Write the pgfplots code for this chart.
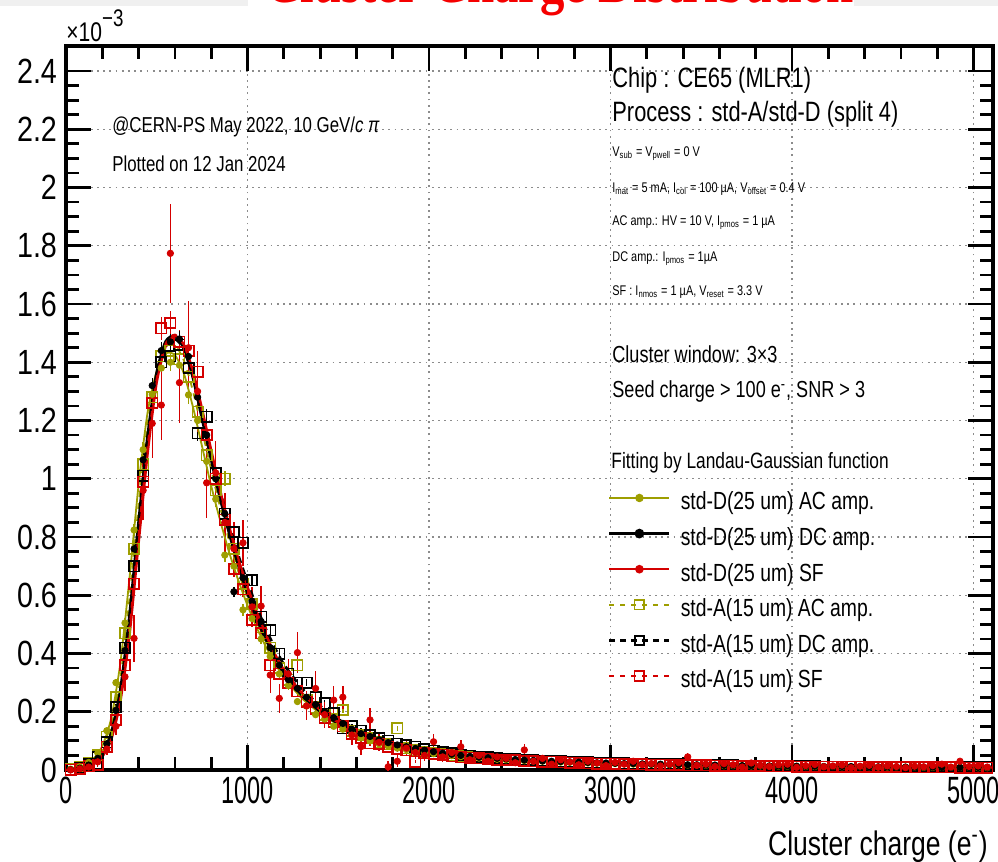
\documentclass[border=0pt]{standalone}
\usepackage{fontspec}
\setmainfont{Liberation Sans}[FakeStretch=0.78]
\newfontfamily\tickfont{Liberation Sans}[FakeStretch=0.62]
\newfontfamily\ytickfont{Liberation Sans}[FakeStretch=0.82]
\newfontfamily\titlefont{Liberation Serif}[FakeStretch=0.8]
\usepackage{pgfplots}
\usepackage{pgfplotstable}
\pgfplotsset{compat=1.18}
\definecolor{olv}{RGB}{158,158,0}
\definecolor{rd}{RGB}{212,0,0}
\definecolor{ttl}{RGB}{245,0,0}

\pgfplotstableread{
x a ae b be c ce d de e ee g ge
25 0.003 0.002 0.001 0.001 0.000 0.004 0.002 0.002 0.001 0.001 0.001 0.003
75 0.011 0.003 0.006 0.002 0.004 0.005 0.010 0.003 0.007 0.002 0.005 0.004
125 0.026 0.004 0.017 0.003 0.010 0.008 0.024 0.004 0.019 0.003 0.013 0.006
175 0.058 0.006 0.040 0.005 0.028 0.012 0.050 0.006 0.044 0.005 0.018 0.008
225 0.135 0.009 0.090 0.007 0.072 0.020 0.115 0.009 0.095 0.008 0.080 0.012
275 0.300 0.013 0.205 0.010 0.150 0.030 0.250 0.013 0.215 0.012 0.172 0.016
325 0.505 0.018 0.410 0.015 0.320 0.050 0.470 0.018 0.420 0.016 0.360 0.022
375 0.824 0.022 0.759 0.020 0.452 0.080 0.760 0.022 0.700 0.020 0.640 0.028
425 1.100 0.026 1.065 0.024 0.960 0.100 1.050 0.026 1.010 0.024 0.990 0.032
475 1.290 0.030 1.320 0.026 1.190 0.120 1.280 0.030 1.260 0.027 1.260 0.036
525 1.380 0.031 1.440 0.028 1.253 0.120 1.420 0.031 1.400 0.028 1.517 0.040
575 1.400 0.031 1.470 0.028 1.774 0.170 1.440 0.032 1.420 0.028 1.535 0.040
625 1.390 0.031 1.480 0.028 1.330 0.140 1.410 0.031 1.460 0.028 1.470 0.040
675 1.288 0.030 1.420 0.028 1.450 0.160 1.350 0.030 1.380 0.028 1.440 0.040
725 1.200 0.029 1.280 0.027 1.300 0.140 1.230 0.029 1.156 0.026 1.367 0.040
775 1.060 0.027 1.150 0.025 0.986 0.120 1.080 0.027 1.213 0.026 1.150 0.036
825 0.930 0.026 1.000 0.024 1.020 0.110 0.960 0.026 1.020 0.024 1.000 0.034
875 0.738 0.023 0.880 0.022 0.850 0.100 1.000 0.026 0.880 0.022 0.860 0.030
925 0.700 0.022 0.612 0.018 0.760 0.090 0.760 0.023 0.817 0.021 0.690 0.027
975 0.550 0.020 0.660 0.019 0.780 0.080 0.640 0.021 0.780 0.021 0.620 0.026
1025 0.520 0.019 0.580 0.018 0.560 0.070 0.570 0.020 0.652 0.019 0.515 0.024
1075 0.450 0.018 0.510 0.017 0.563 0.070 0.490 0.018 0.526 0.017 0.470 0.023
1125 0.390 0.016 0.420 0.015 0.326 0.060 0.420 0.017 0.480 0.016 0.360 0.020
1175 0.330 0.015 0.360 0.014 0.246 0.050 0.350 0.015 0.400 0.015 0.330 0.019
1225 0.290 0.014 0.310 0.013 0.330 0.050 0.310 0.014 0.330 0.014 0.300 0.018
1275 0.235 0.013 0.280 0.012 0.403 0.070 0.360 0.015 0.300 0.013 0.270 0.017
1325 0.220 0.012 0.250 0.012 0.220 0.050 0.240 0.012 0.300 0.013 0.235 0.016
1375 0.190 0.011 0.225 0.011 0.280 0.060 0.215 0.012 0.250 0.012 0.210 0.015
1425 0.175 0.011 0.200 0.010 0.190 0.045 0.190 0.011 0.229 0.011 0.180 0.014
1475 0.150 0.010 0.180 0.010 0.240 0.050 0.175 0.010 0.195 0.010 0.165 0.013
1525 0.140 0.009 0.160 0.009 0.250 0.040 0.206 0.011 0.143 0.009 0.150 0.012
1575 0.125 0.009 0.140 0.009 0.120 0.035 0.135 0.009 0.150 0.009 0.125 0.011
1625 0.110 0.008 0.125 0.008 0.080 0.030 0.120 0.009 0.135 0.008 0.110 0.011
1675 0.100 0.008 0.115 0.008 0.172 0.040 0.110 0.008 0.120 0.008 0.092 0.010
1725 0.090 0.007 0.104 0.007 0.095 0.030 0.095 0.008 0.110 0.008 0.090 0.010
1775 0.082 0.007 0.094 0.007 0.011 0.020 0.088 0.007 0.100 0.007 0.080 0.009
1825 0.075 0.007 0.086 0.006 0.030 0.020 0.143 0.009 0.090 0.007 0.072 0.009
1875 0.070 0.006 0.080 0.006 0.075 0.025 0.075 0.007 0.085 0.006 0.068 0.008
1925 0.065 0.006 0.074 0.006 0.060 0.022 0.068 0.006 0.080 0.006 0.029 0.006
1975 0.060 0.006 0.068 0.006 0.050 0.020 0.062 0.006 0.072 0.006 0.058 0.008
2025 0.056 0.005 0.063 0.005 0.097 0.025 0.058 0.006 0.066 0.005 0.055 0.007
2075 0.052 0.005 0.058 0.005 0.045 0.018 0.054 0.005 0.062 0.005 0.052 0.007
2125 0.049 0.005 0.054 0.005 0.060 0.020 0.051 0.005 0.058 0.005 0.047 0.007
2175 0.046 0.005 0.050 0.005 0.080 0.022 0.048 0.005 0.052 0.005 0.044 0.006
2225 0.044 0.005 0.047 0.005 0.035 0.015 0.045 0.005 0.049 0.005 0.042 0.006
2275 0.041 0.004 0.044 0.004 0.050 0.016 0.043 0.005 0.046 0.004 0.040 0.006
2325 0.039 0.004 0.042 0.004 0.030 0.014 0.041 0.004 0.044 0.004 0.038 0.006
2375 0.037 0.004 0.040 0.004 0.045 0.015 0.039 0.004 0.041 0.004 0.036 0.005
2425 0.035 0.004 0.038 0.004 0.040 0.014 0.036 0.004 0.039 0.004 0.034 0.005
2475 0.034 0.004 0.036 0.004 0.025 0.012 0.035 0.004 0.037 0.004 0.033 0.005
2525 0.032 0.004 0.034 0.004 0.069 0.020 0.033 0.004 0.035 0.004 0.031 0.005
2575 0.031 0.004 0.033 0.004 0.030 0.012 0.032 0.004 0.034 0.004 0.030 0.005
2625 0.030 0.004 0.031 0.004 0.040 0.013 0.031 0.004 0.032 0.004 0.029 0.005
2675 0.028 0.003 0.030 0.003 0.020 0.010 0.029 0.004 0.031 0.003 0.028 0.005
2725 0.027 0.003 0.029 0.003 0.035 0.012 0.028 0.003 0.030 0.003 0.026 0.004
2775 0.026 0.003 0.028 0.003 0.028 0.011 0.027 0.003 0.029 0.003 0.025 0.004
2825 0.025 0.003 0.027 0.003 0.018 0.009 0.026 0.003 0.027 0.003 0.024 0.004
2875 0.024 0.003 0.026 0.003 0.030 0.011 0.025 0.003 0.026 0.003 0.023 0.004
2925 0.023 0.003 0.025 0.003 0.024 0.010 0.024 0.003 0.025 0.003 0.022 0.004
2975 0.022 0.003 0.024 0.003 0.015 0.008 0.023 0.003 0.024 0.003 0.021 0.004
3025 0.022 0.003 0.023 0.003 0.026 0.010 0.022 0.003 0.023 0.003 0.021 0.004
3075 0.021 0.003 0.022 0.003 0.020 0.009 0.021 0.003 0.023 0.003 0.020 0.004
3125 0.020 0.003 0.022 0.003 0.030 0.010 0.021 0.003 0.022 0.003 0.020 0.004
3175 0.020 0.003 0.021 0.003 0.018 0.008 0.020 0.003 0.021 0.003 0.019 0.004
3225 0.019 0.003 0.020 0.003 0.022 0.009 0.020 0.003 0.021 0.003 0.018 0.004
3275 0.019 0.003 0.020 0.003 0.014 0.007 0.019 0.003 0.020 0.003 0.018 0.004
3325 0.018 0.003 0.019 0.003 0.020 0.008 0.019 0.003 0.019 0.003 0.017 0.004
3375 0.018 0.003 0.019 0.003 0.025 0.009 0.018 0.003 0.019 0.003 0.017 0.004
3425 0.017 0.003 0.018 0.003 0.045 0.012 0.018 0.003 0.018 0.003 0.016 0.003
3475 0.017 0.003 0.018 0.003 0.016 0.007 0.017 0.003 0.018 0.003 0.016 0.003
3525 0.016 0.003 0.017 0.003 0.020 0.008 0.017 0.003 0.017 0.003 0.016 0.003
3575 0.016 0.003 0.017 0.003 0.012 0.006 0.016 0.003 0.017 0.003 0.015 0.003
3625 0.015 0.002 0.016 0.002 0.022 0.008 0.016 0.002 0.016 0.002 0.015 0.003
3675 0.015 0.002 0.016 0.002 0.018 0.007 0.015 0.002 0.016 0.002 0.015 0.003
3725 0.015 0.002 0.015 0.002 0.010 0.006 0.015 0.002 0.015 0.002 0.014 0.003
3775 0.014 0.002 0.015 0.002 0.024 0.008 0.015 0.002 0.015 0.002 0.014 0.003
3825 0.014 0.002 0.015 0.002 0.016 0.007 0.014 0.002 0.015 0.002 0.014 0.003
3875 0.014 0.002 0.014 0.002 0.012 0.006 0.014 0.002 0.014 0.002 0.013 0.003
3925 0.013 0.002 0.014 0.002 0.018 0.007 0.014 0.002 0.014 0.002 0.013 0.003
3975 0.013 0.002 0.014 0.002 0.020 0.007 0.013 0.002 0.014 0.002 0.013 0.003
4025 0.013 0.002 0.013 0.002 0.009 0.005 0.013 0.002 0.013 0.002 0.012 0.003
4075 0.012 0.002 0.013 0.002 0.015 0.006 0.013 0.002 0.013 0.002 0.012 0.003
4125 0.012 0.002 0.013 0.002 0.019 0.007 0.012 0.002 0.013 0.002 0.012 0.003
4175 0.012 0.002 0.012 0.002 0.011 0.006 0.012 0.002 0.012 0.002 0.012 0.003
4225 0.012 0.002 0.012 0.002 0.014 0.006 0.012 0.002 0.012 0.002 0.011 0.003
4275 0.011 0.002 0.012 0.002 0.017 0.007 0.012 0.002 0.012 0.002 0.011 0.003
4325 0.011 0.002 0.012 0.002 0.008 0.005 0.011 0.002 0.012 0.002 0.011 0.003
4375 0.011 0.002 0.011 0.002 0.013 0.006 0.011 0.002 0.011 0.002 0.011 0.003
4425 0.011 0.002 0.011 0.002 0.016 0.006 0.011 0.002 0.011 0.002 0.010 0.003
4475 0.010 0.002 0.011 0.002 0.010 0.005 0.011 0.002 0.011 0.002 0.010 0.003
4525 0.010 0.002 0.011 0.002 0.014 0.006 0.010 0.002 0.011 0.002 0.010 0.003
4575 0.010 0.002 0.010 0.002 0.012 0.006 0.010 0.002 0.010 0.002 0.010 0.003
4625 0.010 0.002 0.010 0.002 0.008 0.005 0.010 0.002 0.010 0.002 0.009 0.003
4675 0.010 0.002 0.010 0.002 0.013 0.006 0.010 0.002 0.010 0.002 0.009 0.003
4725 0.009 0.002 0.010 0.002 0.011 0.005 0.010 0.002 0.010 0.002 0.009 0.003
4775 0.009 0.002 0.010 0.002 0.015 0.006 0.009 0.002 0.010 0.002 0.009 0.003
4825 0.009 0.002 0.009 0.002 0.020 0.007 0.009 0.002 0.009 0.002 0.009 0.003
4875 0.009 0.002 0.009 0.002 0.010 0.005 0.009 0.002 0.009 0.002 0.009 0.003
4925 0.009 0.002 0.009 0.002 0.030 0.009 0.009 0.002 0.009 0.002 0.008 0.003
4975 0.009 0.002 0.009 0.002 0.012 0.006 0.009 0.002 0.009 0.002 0.008 0.003
5025 0.008 0.002 0.009 0.002 0.014 0.006 0.009 0.002 0.009 0.002 0.008 0.003
5075 0.008 0.002 0.009 0.002 0.010 0.005 0.008 0.002 0.009 0.002 0.008 0.003
}\hist

\pgfplotstableread{
x bd od rdd oa ba ra
0 0.000 0.002 0.000 0.001 0.000 0.000
50 0.003 0.006 0.002 0.004 0.003 0.002
100 0.010 0.016 0.008 0.013 0.010 0.009
150 0.025 0.037 0.021 0.031 0.024 0.023
200 0.055 0.082 0.045 0.068 0.053 0.050
250 0.125 0.180 0.105 0.150 0.120 0.113
300 0.270 0.370 0.235 0.315 0.262 0.250
350 0.520 0.660 0.460 0.590 0.505 0.490
400 0.840 0.980 0.775 0.910 0.825 0.810
450 1.140 1.230 1.085 1.190 1.125 1.115
500 1.360 1.370 1.330 1.370 1.345 1.345
550 1.470 1.430 1.455 1.455 1.455 1.465
600 1.490 1.425 1.490 1.460 1.480 1.495
650 1.450 1.360 1.460 1.405 1.445 1.460
700 1.350 1.245 1.370 1.300 1.350 1.365
750 1.210 1.110 1.240 1.165 1.220 1.230
800 1.070 0.975 1.100 1.030 1.085 1.090
850 0.935 0.855 0.960 0.900 0.955 0.950
900 0.815 0.745 0.835 0.785 0.840 0.830
950 0.705 0.650 0.725 0.680 0.735 0.720
1000 0.610 0.565 0.630 0.590 0.645 0.625
1050 0.525 0.490 0.545 0.510 0.560 0.540
1100 0.452 0.425 0.468 0.440 0.485 0.465
1150 0.390 0.368 0.400 0.380 0.420 0.400
1200 0.335 0.318 0.345 0.328 0.363 0.345
1300 0.258 0.246 0.264 0.252 0.280 0.265
1400 0.203 0.195 0.207 0.199 0.220 0.208
1500 0.160 0.155 0.163 0.158 0.174 0.164
1600 0.128 0.124 0.130 0.126 0.139 0.131
1700 0.104 0.101 0.105 0.103 0.113 0.106
1800 0.085 0.083 0.086 0.084 0.092 0.087
1900 0.071 0.069 0.072 0.070 0.077 0.073
2000 0.060 0.058 0.061 0.059 0.065 0.062
2200 0.046 0.045 0.046 0.045 0.049 0.047
2400 0.037 0.036 0.037 0.036 0.039 0.037
2600 0.031 0.030 0.030 0.030 0.032 0.031
2800 0.026 0.025 0.025 0.025 0.027 0.026
3000 0.022 0.021 0.021 0.021 0.023 0.022
3500 0.016 0.016 0.016 0.016 0.017 0.016
4000 0.013 0.012 0.012 0.013 0.013 0.013
4500 0.011 0.010 0.010 0.010 0.011 0.011
5000 0.009 0.009 0.009 0.009 0.009 0.009
5100 0.009 0.008 0.008 0.008 0.009 0.009
}\fits

\begin{document}
\begin{tikzpicture}
\begin{axis}[
  at={(0,0)}, anchor=south west,
  scale only axis, width=463.5bp, height=362bp,
  xmin=0, xmax=5107, ymin=0, ymax=2.486,
  xtick={0,1000,...,5000}, minor x tick num=4,
  ytick={0,0.2,...,2.4}, minor y tick num=3,
  scaled x ticks=false, scaled y ticks=false,
  /pgf/number format/1000 sep={},
  /pgf/number format/assume math mode=true,
  yticklabel style={font=\ytickfont\fontsize{17.5bp}{18bp}\selectfont, xshift=-1bp},
  xticklabel style={font=\tickfont\fontsize{19bp}{20bp}\selectfont},
  yticklabels={0,0.2,0.4,0.6,0.8,1,1.2,1.4,1.6,1.8,2,2.2,2.4},
  major tick length=12.5bp, minor tick length=6.5bp,
  every tick/.style={black, line width=1.4bp},
  axis line style={line width=1.6bp},
  grid=major,
  major grid style={gray!90, line width=0.65bp, dash pattern=on 0.9bp off 2.2bp},
  error bars/error bar style={line width=0.7bp, solid},
  error bars/error mark=none,
  legend cell align=left,
  legend style={at={(0.5847,0.384)}, anchor=north west, draw=none, fill=none,
    inner sep=0pt, outer sep=0pt, row sep=5.8bp, column sep=5bp,
    font=\fontsize{12.4bp}{14bp}\selectfont,
    nodes={inner sep=0pt, text height=9bp, text depth=3bp}},
  legend image code/.code={\draw[mark repeat=2,mark phase=2,#1] plot coordinates {(0bp,3bp) (15bp,3bp) (30bp,3bp)};},
]
% histograms
\addplot[forget plot, only marks, color=olv, mark=square, mark size=2.6bp, mark options={line width=0.8bp},
  error bars/.cd, y dir=both, y explicit] table[x=x, y=d, y error=de] {\hist};
\addplot[forget plot, only marks, color=black, mark=square, mark size=2.6bp, mark options={line width=0.8bp},
  error bars/.cd, y dir=both, y explicit] table[x=x, y=e, y error=ee] {\hist};
\addplot[forget plot, only marks, color=rd, mark=square, mark size=2.6bp, mark options={line width=0.8bp},
  error bars/.cd, y dir=both, y explicit] table[x=x, y=g, y error=ge] {\hist};
\addplot[forget plot, only marks, color=olv, mark=*, mark size=1.6bp,
  error bars/.cd, y dir=both, y explicit] table[x=x, y=a, y error=ae] {\hist};
\addplot[forget plot, only marks, color=black, mark=*, mark size=1.6bp,
  error bars/.cd, y dir=both, y explicit] table[x=x, y=b, y error=be] {\hist};
\addplot[forget plot, only marks, color=rd, mark=*, mark size=1.6bp,
  error bars/.cd, y dir=both, y explicit] table[x=x, y=c, y error=ce] {\hist};
% fits
\addplot[forget plot, no marks, smooth, tension=0.4, color=olv, line width=0.9bp] table[x=x, y=od] {\fits};
\addplot[forget plot, no marks, smooth, tension=0.4, color=olv, line width=0.9bp, dash pattern=on 3bp off 3bp] table[x=x, y=oa] {\fits};
\addplot[forget plot, no marks, smooth, tension=0.4, color=black, line width=1.7bp] table[x=x, y=bd] {\fits};
\addplot[forget plot, no marks, smooth, tension=0.4, color=black, line width=1.4bp, dash pattern=on 3.5bp off 2.5bp] table[x=x, y=ba] {\fits};
\addplot[forget plot, no marks, smooth, tension=0.4, color=rd, line width=1.1bp] table[x=x, y=rdd] {\fits};
\addplot[forget plot, no marks, smooth, tension=0.4, color=rd, line width=1.0bp, dash pattern=on 3bp off 3bp] table[x=x, y=ra] {\fits};
% legend
\addlegendimage{color=olv, line width=0.8bp, mark=*, mark size=1.7bp}
\addlegendentry{std-D(25 um) AC amp.}
\addlegendimage{color=black, line width=1.4bp, mark=*, mark size=1.7bp}
\addlegendentry{std-D(25 um) DC amp.}
\addlegendimage{color=rd, line width=0.9bp, mark=*, mark size=1.7bp}
\addlegendentry{std-D(25 um) SF}
\addlegendimage{color=olv, line width=0.8bp, dash pattern=on 2.5bp off 3bp, mark=square, mark size=2.4bp, mark options={solid, line width=0.8bp}}
\addlegendentry{std-A(15 um) AC amp.}
\addlegendimage{color=black, line width=1.4bp, dash pattern=on 3bp off 2.5bp, mark=square, mark size=2.4bp, mark options={solid, line width=1bp}}
\addlegendentry{std-A(15 um) DC amp.}
\addlegendimage{color=rd, line width=0.8bp, dash pattern=on 2.5bp off 3bp, mark=square, mark size=2.4bp, mark options={solid, line width=0.8bp}}
\addlegendentry{std-A(15 um) SF}
% annotations
\node[anchor=base west, inner sep=0pt, font=\fontsize{10.8bp}{12bp}\selectfont] at (rel axis cs:0.0496,0.881) {@CERN-PS May 2022, 10 GeV/\textit{c} \textit{π}};
\node[anchor=base west, inner sep=0pt, font=\fontsize{10.8bp}{12bp}\selectfont] at (rel axis cs:0.0496,0.826) {Plotted on 12 Jan 2024};
\node[anchor=base west, inner sep=0pt, font=\fontsize{14bp}{16bp}\selectfont] at (rel axis cs:0.589,0.943) {Chip : CE65 (MLR1)};
\node[anchor=base west, inner sep=0pt, font=\fontsize{14bp}{16bp}\selectfont] at (rel axis cs:0.589,0.896) {Process : std-A/std-D (split 4)};
\node[anchor=base west, inner sep=0pt, font=\fontsize{7bp}{8bp}\selectfont] at (rel axis cs:0.589,0.8475) {V\textsubscript{sub} = V\textsubscript{pwell} = 0 V};
\node[anchor=base west, inner sep=0pt, font=\fontsize{7bp}{8bp}\selectfont] at (rel axis cs:0.589,0.798) {I\textsubscript{mat} = 5 mA, I\textsubscript{col} = 100 µA, V\textsubscript{offset} = 0.4 V};
\node[anchor=base west, inner sep=0pt, font=\fontsize{7bp}{8bp}\selectfont] at (rel axis cs:0.589,0.752) {AC amp.: HV = 10 V, I\textsubscript{pmos} = 1 µA};
\node[anchor=base west, inner sep=0pt, font=\fontsize{7bp}{8bp}\selectfont] at (rel axis cs:0.589,0.703) {DC amp.: I\textsubscript{pmos} = 1µA};
\node[anchor=base west, inner sep=0pt, font=\fontsize{7bp}{8bp}\selectfont] at (rel axis cs:0.589,0.655) {SF : I\textsubscript{nmos} = 1 µA, V\textsubscript{reset} = 3.3 V};
\node[anchor=base west, inner sep=0pt, font=\fontsize{11.6bp}{13bp}\selectfont] at (rel axis cs:0.589,0.563) {Cluster window: 3×3};
\node[anchor=base west, inner sep=0pt, font=\fontsize{11.6bp}{13bp}\selectfont] at (rel axis cs:0.589,0.514) {Seed charge > 100 e\textsuperscript{-}, SNR > 3};
\node[anchor=base west, inner sep=0pt, font=\fontsize{11.1bp}{13bp}\selectfont] at (rel axis cs:0.588,0.416) {Fitting by Landau-Gaussian function};
\end{axis}
% top band and title
\fill[gray!12] (-33bp,382bp) rectangle (466bp,385bp);
\fill[white] (91bp,382bp) rectangle (394bp,385bp);
\node[anchor=base, font=\titlefont\bfseries\fontsize{30.5bp}{32bp}\selectfont, text=ttl, inner sep=0pt] at (246.75bp,383.5bp) {Cluster Charge Distribution};
% exponent and x label
\node[anchor=base west, inner sep=0pt, font=\fontsize{13.5bp}{15bp}\selectfont] at (0bp,364bp) {×10\raisebox{7.5bp}{\fontsize{12bp}{13bp}\selectfont −3}};
\node[anchor=base east, inner sep=0pt, font=\fontsize{17bp}{19bp}\selectfont] at (461bp,-42.5bp) {Cluster charge (e\textsuperscript{-})};
\pgfresetboundingbox
\useasboundingbox (-33bp,-46bp) rectangle (466bp,385bp);
\end{tikzpicture}
\end{document}
